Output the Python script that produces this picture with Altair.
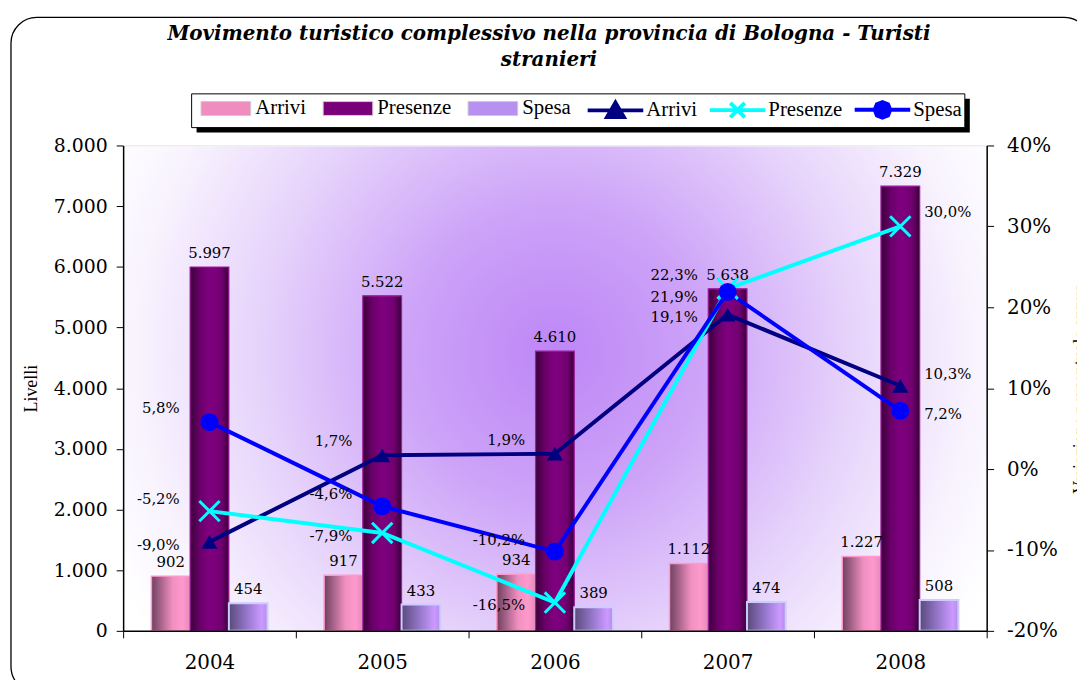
import altair as alt
import pandas as pd

# ---------------- data ----------------
anni = ["2004", "2005", "2006", "2007", "2008"]
serie = ["Arrivi", "Presenze", "Spesa"]
serie_var = ["Var. Arrivi", "Var. Presenze", "Var. Spesa"]
livelli_arrivi = [902, 917, 934, 1112, 1227]
livelli_presenze = [5997, 5522, 4610, 5638, 7329]
livelli_spesa = [454, 433, 389, 474, 508]
var_arrivi = [-9.0, 1.7, 1.9, 19.1, 10.3]
var_presenze = [-5.2, -7.9, -16.5, 22.3, 30.0]
var_spesa = [5.8, -4.6, -10.2, 21.9, 7.2]
assi_sx = [0, 1000, 2000, 3000, 4000, 5000, 6000, 7000, 8000]
assi_dx = [-20, -10, 0, 10, 20, 30, 40]

livelli = pd.DataFrame({
    "anno": anni * 3,
    "serie": [s for s in serie for _ in anni],
    "valore": livelli_arrivi + livelli_presenze + livelli_spesa,
})
variazioni = pd.DataFrame({
    "anno": anni * 3,
    "serie": [s for s in serie_var for _ in anni],
    "var": var_arrivi + var_presenze + var_spesa,
})
uno = pd.DataFrame({"k": [0]})

W, H = 870, 489
SERIF = "DejaVu Serif"
TIMES = "Liberation Serif"
MINUS = "\u2212"
ULTIMO = anni[-1]

# ---------------- encodings ----------------
x_enc = alt.X(
    "anno:N",
    scale=alt.Scale(domain=anni, paddingInner=0, paddingOuter=0),
    axis=alt.Axis(title=None, labelAngle=0, labelFont=SERIF, labelFontSize=20,
                  labelColor="black", tickBand="extent", tickSize=7, tickColor="black",
                  domainColor="black", domainWidth=1.5, labelPadding=15, zindex=1),
)
xoff = alt.XOffset("serie:N", scale=alt.Scale(domain=serie, paddingOuter=0.73, paddingInner=0))
y_liv = alt.Y(
    "valore:Q",
    scale=alt.Scale(domain=[0, 8000], nice=False, zero=True),
    axis=alt.Axis(title="Livelli", values=assi_sx, grid=False,
                  labelExpr="replace(format(datum.value, ',.0f'), ',', '.')",
                  labelFont=SERIF, labelFontSize=19, labelColor="black",
                  tickSize=7, tickColor="black", domainColor="black", domainWidth=1.5,
                  labelPadding=9, titleFont=TIMES, titleFontSize=18, titleFontWeight="normal",
                  titleColor="black", titlePadding=13, zindex=1),
)
y_var = alt.Y(
    "var:Q",
    scale=alt.Scale(domain=[-20, 40], nice=False, zero=False),
    axis=alt.Axis(orient="right", title="Variazione percentuale annua", values=assi_dx, grid=False,
                  labelExpr="replace(format(datum.value, '.0f'), '" + MINUS + "', '-') + '%'",
                  labelFont=SERIF, labelFontSize=20, labelColor="black",
                  tickSize=7, tickColor="black", domainColor="black", domainWidth=1.5,
                  labelPadding=13, titleFont=TIMES, titleFontSize=18, titleFontWeight="normal",
                  titleColor="black", titlePadding=14, titleAngle=270, titleBaseline="top",
                  zindex=1),
)

# ---------------- decorations ----------------
bg = alt.Chart(uno).mark_rect(
    fill=alt.RadialGradient(
        gradient="radial", x1=0.5, y1=0.46, x2=0.5, y2=0.46, r1=0, r2=0.57,
        stops=[alt.GradientStop(offset=0, color="#bd86f6"),
               alt.GradientStop(offset=0.3, color="#cda3f8"),
               alt.GradientStop(offset=0.6, color="#e6d3fb"),
               alt.GradientStop(offset=0.85, color="#f8f3fe"),
               alt.GradientStop(offset=1, color="#ffffff")]),
).encode(x=alt.value(0), x2=alt.value(W), y=alt.value(1), y2=alt.value(H))

cornice = alt.Chart(uno).mark_rect(fill="transparent", stroke="black", strokeWidth=1.3, cornerRadius=26).encode(
    x=alt.value(-113), x2=alt.value(974), y=alt.value(-129), y2=alt.value(551))

ombra = alt.Chart(uno).mark_rect(fill="black").encode(
    x=alt.value(74), x2=alt.value(853), y=alt.value(-47), y2=alt.value(-13))
box = alt.Chart(uno).mark_rect(fill="white", stroke="black", strokeWidth=1).encode(
    x=alt.value(69), x2=alt.value(848), y=alt.value(-52), y2=alt.value(-18))

# ---------------- bars ----------------
legend_bar = alt.Legend(
    title=None, orient="none", legendX=78, legendY=-63, direction="horizontal",
    symbolType="M-1,-0.28H1V0.28H-1Z", symbolSize=2500, symbolOpacity=1,
    symbolStrokeWidth=1, symbolStrokeColor="#cccccc", labelFont=TIMES, labelFontSize=21,
    labelColor="black", columnPadding=14, labelOffset=4, padding=0,
)
base_bar = alt.Chart(livelli).mark_bar().encode(
    x=x_enc, xOffset=xoff, y=y_liv,
    fill=alt.Fill("serie:N", scale=alt.Scale(domain=serie, range=["#f08cc0", "#7a007a", "#b890f0"]),
                  legend=legend_bar),
)

def grad(stops):
    return alt.LinearGradient(gradient="linear", x1=0, x2=1, y1=0, y2=0,
                              stops=[alt.GradientStop(offset=o, color=c) for o, c in stops])

stili = {
    "Arrivi": (grad([(0, "#6e4060"), (0.55, "#f090c0"), (0.8, "#ff99cc"), (1, "#e48abb")]), "#ff99cc", 1.5),
    "Presenze": (grad([(0, "#3a0038"), (0.25, "#6a006a"), (0.5, "#800080"), (0.8, "#720072"), (1, "#3a0038")]), "#a01ca0", 1.2),
    "Spesa": (grad([(0, "#5a4a7a"), (0.5, "#9a7ad0"), (0.85, "#cc99ff"), (1, "#b48cec")]), "#ccccff", 2),
}
bar_layers = []
for s in serie:
    g, st, sw = stili[s]
    bar_layers.append(
        alt.Chart(livelli).transform_filter(alt.datum.serie == s).mark_bar(
            fill=g, stroke=st, strokeWidth=sw
        ).encode(x=x_enc, xOffset=xoff, y=y_liv)
    )

bar_text = alt.Chart(livelli).transform_calculate(
    lab="replace(format(datum.valore, ',.0f'), ',', '.')"
).mark_text(font=SERIF, fontSize=15, color="black", baseline="bottom", dy=-6).encode(
    x=x_enc, xOffset=xoff, y=y_liv, text="lab:N")

bars = alt.layer(bg, cornice, ombra, box, base_bar, *bar_layers, bar_text)

# ---------------- lines ----------------
SHAPE_EXPR = ("datum.value === 'Var. Arrivi' ? 'M-1,0L1,0M-0.3,0.24L0,-0.28L0.3,0.24Z' : "
              "datum.value === 'Var. Presenze' ? 'M-1,0L1,0M-0.26,-0.26L0.26,0.26M-0.26,0.26L0.26,-0.26' : "
              "'M-1,0L1,0M0.28,0L0.2,0.2L0,0.28L-0.2,0.2L-0.28,0L-0.2,-0.2L0,-0.28L0.2,-0.2Z'")
FILL_EXPR = ("datum.var != null ? 'transparent' : datum.value === 'Var. Arrivi' ? '#000080' : "
             "datum.value === 'Var. Spesa' ? '#0000ff' : 'transparent'")
legend_line = alt.Legend(
    title=None, orient="none", legendX=466, legendY=-66, direction="horizontal",
    symbolType=alt.ExprRef(SHAPE_EXPR), symbolSize=3136, symbolStrokeWidth=4, symbolOpacity=1,
    labelExpr="replace(datum.label, 'Var. ', '')",
    labelFont=TIMES, labelFontSize=21, labelColor="black",
    columnPadding=4, labelOffset=1, padding=0,
)
linee = alt.Chart(variazioni).mark_line(strokeWidth=4, fill=alt.ExprRef(FILL_EXPR)).encode(
    x=x_enc, y=y_var,
    stroke=alt.Stroke("serie:N", scale=alt.Scale(domain=serie_var, range=["#000080", "#00ffff", "#0000ff"]),
                      legend=legend_line),
)
pt_arrivi = alt.Chart(variazioni).transform_filter(alt.datum.serie == "Var. Arrivi").mark_point(
    shape="triangle-up", filled=True, size=260, color="#000080", opacity=1).encode(x=x_enc, y=y_var)
pt_presenze = alt.Chart(variazioni).transform_filter(alt.datum.serie == "Var. Presenze").mark_point(
    shape="M-1,-1L1,1M-1,1L1,-1", filled=False, size=420, strokeWidth=3, color="#00ffff", opacity=1
).encode(x=x_enc, y=y_var)
pt_spesa = alt.Chart(variazioni).transform_filter(alt.datum.serie == "Var. Spesa").mark_point(
    shape="circle", filled=True, size=330, color="#0000ff", opacity=1).encode(x=x_enc, y=y_var)

# percentage labels: left of the point (right of it in the last year); the highest of the
# three series in a year goes above, the lowest below, the middle one towards the larger gap.
testi = alt.Chart(variazioni).transform_window(
    rango="rank()", sup="lag(var)", inf="lead(var)",
    groupby=["anno"], sort=[alt.SortField("var", order="descending")]
).transform_calculate(
    lab="replace(replace(format(datum.var, '.1f'), '.', ','), '" + MINUS + "', '-') + '%'"
).mark_text(
    font=SERIF, fontSize=15, color="black", baseline="middle",
    align=alt.ExprRef("datum.anno == '" + ULTIMO + "' ? 'left' : 'right'"),
    dx=alt.ExprRef("datum.anno == '" + ULTIMO + "' ? 24 : -30"),
    dy=alt.ExprRef("datum.rango == 1 ? -14 : (datum.rango == 3 ? 3 : "
                   "((datum.sup - datum.var) > (datum.var - datum.inf) ? -12 : 5))"),
).encode(x=x_enc, y=y_var, text="lab:N")

lines = alt.layer(linee, pt_arrivi, pt_presenze, pt_spesa, testi)

chart = alt.layer(bars, lines).resolve_scale(y="independent").properties(
    width=W, height=H,
    autosize=alt.AutoSizeParams(type="none"),
    padding={"left": 116, "top": 136, "right": 91, "bottom": 47},
    title=alt.TitleParams(
        text=["Movimento turistico complessivo nella provincia di Bologna - Turisti", "stranieri"],
        font=SERIF, fontSize=20, fontStyle="italic", fontWeight="bold", color="black",
        anchor="middle", dx=-6, offset=12, dy=66, lineHeight=27),
).configure_view(stroke="#8a8a8a", strokeWidth=1).configure(background="white")

chart.save("out.html", embed_options={"renderer": "svg", "actions": False})
